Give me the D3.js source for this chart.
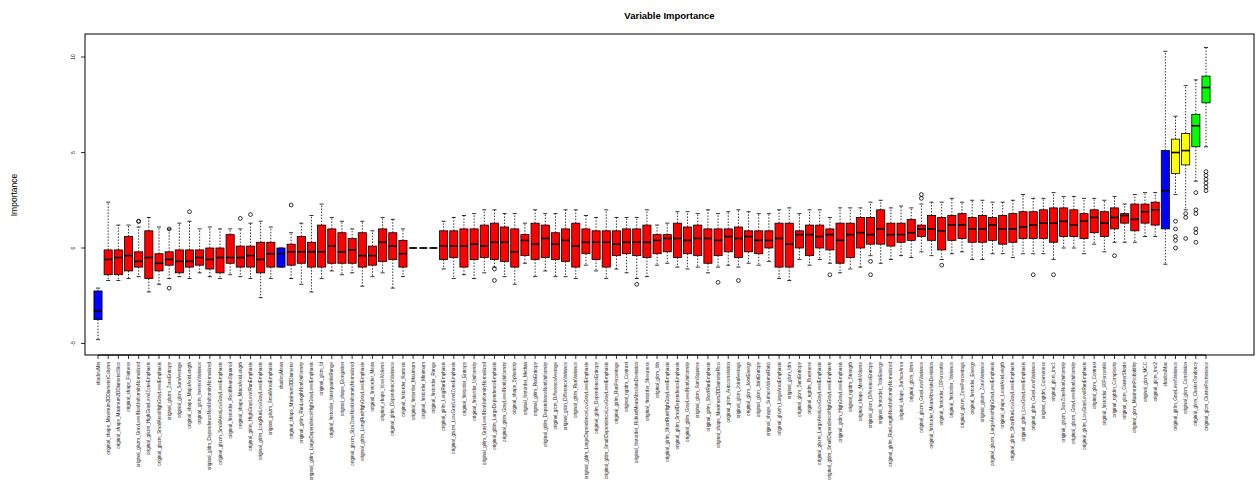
<!DOCTYPE html>
<html><head><meta charset="utf-8">
<script src="https://cdn.jsdelivr.net/npm/d3@7"></script>
<style>body{margin:0;background:#fff}svg{display:block}text{font-family:"Liberation Sans",Arial,sans-serif}</style>
</head><body><svg id="c" width="1260" height="488"></svg>
<script>
const categories = ["shadowMin","original_shape_Maximum2DDiameterColumn","original_shape_Maximum2DDiameterSlice","original_shape_Flatness","original_glszm_GrayLevelNonUniformityNormalized","original_glszm_HighGrayLevelZoneEmphasis","original_glszm_SmallAreaHighGrayLevelEmphasis","original_glszm_ZoneEntropy","original_glcm_SumAverage","original_shape_MajorAxisLength","original_glcm_InverseVariance","original_gldm_DependenceNonUniformityNormalized","original_glszm_SmallAreaLowGrayLevelEmphasis","original_firstorder_RootMeanSquared","original_shape_MinorAxisLength","original_glrlm_HighGrayLevelRunEmphasis","original_glrlm_LongRunLowGrayLevelEmphasis","original_glszm_SmallAreaEmphasis","shadowMean","original_shape_Maximum3DDiameter","original_glrlm_RunLengthNonUniformity","original_gldm_LargeDependenceHighGrayLevelEmphasis","original_glcm_Id","original_firstorder_InterquartileRange","original_shape_Elongation","original_glszm_SizeZoneNonUniformityNormalized","original_glrlm_LongRunHighGrayLevelEmphasis","original_firstorder_Mean","original_shape_VoxelVolume","original_gldm_DependenceVariance","original_firstorder_Kurtosis","original_firstorder_Maximum","original_firstorder_Minimum","original_firstorder_Range","original_glrlm_LongRunEmphasis","original_glszm_LowGrayLevelZoneEmphasis","original_firstorder_Entropy","original_firstorder_Uniformity","original_glrlm_GrayLevelNonUniformityNormalized","original_gldm_LargeDependenceEmphasis","original_glrlm_GrayLevelNonUniformity","original_shape_Sphericity","original_firstorder_Median","original_glrlm_RunEntropy","original_gldm_DependenceNonUniformity","original_glcm_DifferenceAverage","original_glcm_DifferenceVariance","original_glrlm_RunVariance","original_gldm_LargeDependenceLowGrayLevelEmphasis","original_gldm_DependenceEntropy","original_gldm_SmallDependenceLowGrayLevelEmphasis","original_glrlm_RunPercentage","original_ngtdm_Contrast","original_firstorder_RobustMeanAbsoluteDeviation","original_firstorder_Skewness","original_glcm_Idn","original_glrlm_ShortRunHighGrayLevelEmphasis","original_gldm_SmallDependenceEmphasis","original_gldm_GrayLevelNonUniformity","original_glcm_SumSquares","original_glrlm_ShortRunEmphasis","original_shape_Maximum2DDiameterRow","original_glcm_Autocorrelation","original_glcm_JointAverage","original_glcm_JointEnergy","original_glcm_JointEntropy","original_shape_SurfaceVolumeRatio","original_glszm_LargeAreaEmphasis","original_glcm_Idm","original_glcm_SumEntropy","original_ngtdm_Busyness","original_glszm_LargeAreaLowGrayLevelEmphasis","original_gldm_SmallDependenceHighGrayLevelEmphasis","original_gldm_HighGrayLevelEmphasis","original_ngtdm_Strength","original_shape_MeshVolume","original_glcm_DifferenceEntropy","original_firstorder_TotalEnergy","original_glrlm_RunLengthNonUniformityNormalized","original_shape_SurfaceArea","original_glcm_Idmn","original_glszm_GrayLevelVariance","original_firstorder_MeanAbsoluteDeviation","original_firstorder_10Percentile","original_firstorder_Variance","original_glszm_ZonePercentage","original_firstorder_Energy","original_glszm_ZoneVariance","original_glszm_LargeAreaHighGrayLevelEmphasis","original_shape_LeastAxisLength","original_glrlm_ShortRunLowGrayLevelEmphasis","original_gldm_LowGrayLevelEmphasis","original_gldm_GrayLevelVariance","original_ngtdm_Coarseness","original_glcm_Imc1","original_glszm_SizeZoneNonUniformity","original_glszm_GrayLevelNonUniformity","original_glrlm_LowGrayLevelRunEmphasis","original_glcm_Contrast","original_firstorder_90Percentile","original_ngtdm_Complexity","original_glcm_ClusterShade","original_glcm_MaximumProbability","original_glcm_MCC","original_glcm_Imc2","shadowMax","original_glrlm_GrayLevelVariance","original_glcm_Correlation","original_glcm_ClusterTendency","original_glcm_ClusterProminence"];
const tentative = ["original_glrlm_GrayLevelVariance","original_glcm_Correlation"];
const confirmed = ["original_glcm_ClusterTendency","original_glcm_ClusterProminence"];
const lowWhisker = [-4.8,-1.7,-1.7,-1.6,-1.5,-2.3,-1.9,-1.6,-1.5,-1.6,-1.3,-1.5,-1.6,-1.4,-1.5,-1.6,-2.6,-1.6,-1.0,-1.6,-1.9,-2.3,-1.6,-1.2,-1.4,-1.3,-2.0,-1.5,-1.3,-2.1,-1.5,0,0,0,-1.1,-1.6,-1.4,-1.6,-1.3,-1.0,-1.5,-1.9,-0.8,-1.5,-1.2,-1.5,-1.5,-1.6,-0.9,-1.2,-1.6,-1.1,-1.3,-1.6,-1.5,-0.9,-0.8,-1.0,-1.1,-1.0,-1.3,-1.0,-0.9,-1.0,-0.8,-0.9,-0.7,-1.6,-1.7,-0.6,-0.9,-0.6,-0.8,-1.3,-1.1,-1.0,-0.4,-0.8,-0.6,-0.4,-0.5,-0.2,-0.4,-0.6,-0.3,-0.2,-0.6,-0.6,-0.3,-0.3,-0.5,-0.3,-0.3,-0.3,-0.6,0.0,0.0,-0.3,0.2,-0.2,0.3,0.3,0.3,0.6,0.6,-0.85,2.8,2.0,3.5,5.3];
const q1 = [-3.75,-1.4,-1.4,-1.2,-1.0,-1.6,-1.2,-0.9,-1.3,-1.0,-0.9,-1.1,-1.3,-0.8,-1.0,-1.0,-1.3,-1.0,-1.0,-0.9,-0.8,-1.0,-1.0,-0.8,-0.8,-0.8,-1.0,-0.9,-0.7,-0.6,-1.0,0,0,0,-0.6,-0.5,-1.0,-0.6,-0.5,-0.6,-0.7,-1.0,-0.4,-0.6,-0.5,-0.6,-0.7,-1.0,-0.3,-0.6,-1.0,-0.4,-0.3,-0.4,-0.5,-0.3,-0.2,-0.5,-0.3,-0.4,-0.8,-0.4,-0.2,-0.5,-0.2,-0.3,0.0,-1.0,-1.0,0.0,-0.4,0.0,-0.1,-0.8,-0.5,0.0,0.2,0.2,0.1,0.3,0.4,0.6,0.4,-0.1,0.4,0.5,0.3,0.3,0.4,0.2,0.3,0.5,0.5,0.5,0.3,0.6,0.6,0.5,0.8,0.6,1.0,1.3,0.9,1.3,1.2,1.0,3.9,4.35,5.3,7.6];
const medians = [-3.3,-0.6,-0.5,-0.4,-0.7,-0.5,-0.8,-0.6,-0.7,-0.7,-0.5,-0.6,-0.5,-0.5,-0.5,-0.4,-0.6,-0.3,-0.3,-0.2,-0.2,-0.2,-0.2,0.1,-0.2,-0.1,-0.4,-0.4,0.3,0.1,-0.3,0,0,0,0.1,0.1,0.1,0.2,0.1,0.3,0.3,-0.2,0.4,0.2,0.5,0.2,0.4,0.1,0.3,0.3,0.3,0.2,0.3,0.3,0.3,0.4,0.5,0.5,0.4,0.5,0.5,0.4,0.6,0.5,0.6,0.4,0.4,0.5,0.2,0.7,0.7,0.6,0.7,0.4,0.7,0.8,0.7,1.0,0.7,0.7,0.8,1.0,1.0,0.9,1.2,1.2,1.0,1.0,1.2,1.0,1.0,1.1,1.2,1.3,1.3,1.4,1.2,1.4,1.6,1.3,1.6,1.7,1.5,1.9,2.0,3.0,5.0,5.1,6.4,8.4];
const q3 = [-2.25,-0.1,-0.1,0.6,-0.2,0.9,-0.3,-0.2,-0.1,-0.1,-0.1,0.0,0.0,0.7,0.1,0.1,0.3,0.3,0.0,0.2,0.6,0.3,1.2,1.0,0.8,0.5,0.8,0.1,1.0,0.8,0.4,0,0,0,0.9,0.9,1.0,1.0,1.2,1.3,1.1,1.0,0.7,1.3,1.2,0.8,1.0,1.3,1.0,0.9,0.9,0.9,1.0,1.0,1.2,0.7,0.7,1.3,1.1,1.2,1.0,1.0,1.0,1.1,0.9,0.9,0.9,1.3,1.3,0.9,1.2,1.2,1.0,1.3,1.3,1.6,1.6,2.0,1.3,1.3,1.5,1.2,1.7,1.6,1.7,1.8,1.6,1.7,1.6,1.7,1.8,1.9,1.9,2.0,2.1,2.1,2.0,1.8,2.0,1.9,2.1,1.8,2.3,2.3,2.4,5.1,5.7,6.0,7.0,9.0];
const highWhisker = [-2.1,2.4,1.2,1.2,1.1,1.6,1.1,1.0,1.3,1.4,1.0,1.1,1.0,1.0,1.0,1.3,1.4,1.1,0.0,0.8,1.3,1.7,2.3,1.6,1.4,1.0,1.4,0.9,1.6,1.5,1.0,0,0,0,1.4,1.6,1.7,1.8,2.0,2.0,1.8,1.8,1.3,2.0,1.8,1.8,2.0,2.0,1.7,1.6,2.0,1.6,1.6,1.6,2.0,1.2,1.3,1.9,1.9,1.8,2.0,1.8,1.9,2.0,1.9,1.8,1.8,2.0,2.1,1.8,2.0,2.0,1.6,2.1,2.1,2.1,2.4,2.5,2.1,2.2,2.1,2.3,2.4,2.4,2.6,2.4,2.5,2.5,2.4,2.4,2.5,2.8,2.6,2.6,2.9,2.7,2.7,2.6,2.6,2.5,2.7,2.3,2.8,2.9,2.9,10.3,6.9,8.5,8.8,10.5];
const outlierVar = [4,4,7,7,9,14,15,19,39,39,53,61,63,72,76,76,81,81,83,92,94,100,106,106,106,106,106,107,107,107,108,108,108,108,108,108,109,109,109,109,109,109];
const outlierVal = [1.4,1.4,-2.1,1.0,1.9,1.55,1.75,2.25,-1.1,-1.7,-1.9,-1.8,-1.7,-1.4,-0.7,-1.4,2.8,2.6,-0.9,-1.4,-1.4,-0.4,1.4,1.0,0.6,0.4,0.0,1.8,1.6,0.5,2.9,2.0,1.8,1.0,0.8,0.3,4.0,3.8,3.6,3.4,3.2,3.0];
const yTicks = [-5,0,5,10];

const fills = {S:"#0000ff", R:"#ff0000", T:"#ffff00", C:"#00ff00"};
const decisionOf = c => c.startsWith("shadow") ? "S" : tentative.includes(c) ? "T" : confirmed.includes(c) ? "C" : "R";
const svg = d3.select("#c");
const L=85,R=1254,T=34,B=355;
const idx = d3.range(categories.length);
const x = d3.scalePoint().domain(idx).range([98,1206]);
const y = d3.scaleLinear().domain([-5,10]).range([343.5,57]);
const bw = x.step()*0.8;

svg.append("text").attr("x",(L+R)/2).attr("y",19).attr("text-anchor","middle")
  .attr("font-size","9.5px").attr("font-weight","bold").text("Variable Importance");
svg.append("text").attr("transform","translate(17,195) rotate(-90)").attr("text-anchor","middle")
  .attr("font-size","8.5px").text("Importance");

const g = svg.append("g");
idx.forEach(i=>{
  const cx = x(i);
  const gg = g.append("g");
  gg.append("line").attr("x1",cx).attr("x2",cx).attr("y1",y(q3[i])).attr("y2",y(highWhisker[i]))
    .attr("stroke","#000").attr("stroke-width",0.8).attr("stroke-dasharray","1.5,1.5");
  gg.append("line").attr("x1",cx).attr("x2",cx).attr("y1",y(q1[i])).attr("y2",y(lowWhisker[i]))
    .attr("stroke","#000").attr("stroke-width",0.8).attr("stroke-dasharray","1.5,1.5");
  [lowWhisker[i],highWhisker[i]].forEach(v=>{
    gg.append("line").attr("x1",cx-bw/4).attr("x2",cx+bw/4).attr("y1",y(v)).attr("y2",y(v))
      .attr("stroke","#000").attr("stroke-width",0.8);
  });
  gg.append("rect").attr("x",cx-bw/2).attr("width",bw).attr("y",y(q3[i])).attr("height",Math.max(0,y(q1[i])-y(q3[i])))
    .attr("fill",fills[decisionOf(categories[i])]).attr("stroke","#000").attr("stroke-width",0.8);
  gg.append("line").attr("x1",cx-bw/2).attr("x2",cx+bw/2).attr("y1",y(medians[i])).attr("y2",y(medians[i]))
    .attr("stroke","#000").attr("stroke-width",1.6);
});
outlierVar.forEach((vi,k)=>{
  g.append("circle").attr("cx",x(vi)).attr("cy",y(outlierVal[k])).attr("r",1.9)
    .attr("fill","none").attr("stroke","#000").attr("stroke-width",0.8);
});

svg.append("rect").attr("x",L).attr("y",T).attr("width",R-L).attr("height",B-T)
  .attr("fill","none").attr("stroke","#000").attr("stroke-width",1);

const ya = svg.append("g");
yTicks.forEach(t=>{
  ya.append("line").attr("x1",L).attr("x2",L-4).attr("y1",y(t)).attr("y2",y(t)).attr("stroke","#000").attr("stroke-width",0.8);
  ya.append("text").attr("transform",`translate(${L-10},${y(t)}) rotate(-90)`).attr("text-anchor","middle")
    .attr("font-size","5px").text(t);
});
const xa = svg.append("g");
xa.append("line").attr("x1",x(0)).attr("x2",x(categories.length-1)).attr("y1",B).attr("y2",B).attr("stroke","#000");
idx.forEach(i=>{
  xa.append("line").attr("x1",x(i)).attr("x2",x(i)).attr("y1",B).attr("y2",B+4).attr("stroke","#000").attr("stroke-width",0.8);
  xa.append("text").attr("transform",`translate(${x(i)+1.6},${B+7}) rotate(-90)`).attr("text-anchor","end")
    .attr("font-size","4.6px").attr("fill","#222").text(categories[i]);
});
</script></body></html>
